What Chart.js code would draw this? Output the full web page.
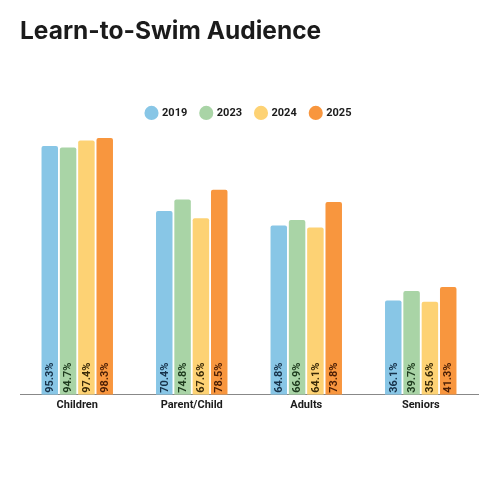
<!DOCTYPE html>
<html>
<head>
<meta charset="utf-8">
<script src="https://cdn.jsdelivr.net/npm/chart.js@4"></script>
<style>
  html, body { margin: 0; padding: 0; background: #fff; }
  #wrap { width: 500px; height: 500px; }
</style>
</head>
<body>
<div id="wrap"><canvas id="swimChart" width="500" height="500"></canvas></div>
<script>
// chart data
const categories = ['Children', 'Parent/Child', 'Adults', 'Seniors'];
const years = ['2019', '2023', '2024', '2025'];
const values2019 = [95.3, 70.4, 64.8, 36.1];
const values2023 = [94.7, 74.8, 66.9, 39.7];
const values2024 = [97.4, 67.6, 64.1, 35.6];
const values2025 = [98.3, 78.5, 73.8, 41.3];

const fills = ['#88c6e6', '#a9d4a6', '#fdd274', '#f8963e'];
const textColors = ['#17324a', '#1d3a1d', '#3a2a08', '#4a1e05'];

// draw the value labels rotated inside each bar, at the bottom
const barLabels = {
    id: 'barLabels',
    afterDatasetsDraw(chart) {
        const ctx = chart.ctx;
        const base = chart.scales.y.getPixelForValue(0);
        chart.data.datasets.forEach(function (ds, i) {
            const meta = chart.getDatasetMeta(i);
            meta.data.forEach(function (bar, j) {
                ctx.save();
                ctx.translate(bar.x, base - 2);
                ctx.rotate(-Math.PI / 2);
                ctx.font = 'bold 11px Roboto, sans-serif';
                ctx.fillStyle = textColors[i];
                ctx.textAlign = 'left';
                ctx.textBaseline = 'middle';
                ctx.fillText(ds.data[j].toFixed(1) + '%', 0, 0.5);
                ctx.restore();
            });
        });
    }
};

const ctx = document.getElementById('swimChart').getContext('2d');
new Chart(ctx, {
    type: 'bar',
    data: {
        labels: categories,
        datasets: [values2019, values2023, values2024, values2025].map(function (vals, i) {
            return {
                label: years[i],
                data: vals,
                backgroundColor: fills[i],
                borderRadius: { topLeft: 2, topRight: 2 },
                borderSkipped: 'bottom',
                categoryPercentage: 0.64,
                barPercentage: 0.9
            };
        })
    },
    options: {
        responsive: false,
        animation: false,
        layout: { padding: { left: 20, right: 22, bottom: 84, top: 0 } },
        plugins: {
            title: {
                display: true,
                text: 'Learn-to-Swim Audience',
                align: 'start',
                color: '#1b1b1b',
                font: { family: 'Inter, sans-serif', size: 24.5, weight: 'bold' },
                padding: { top: 17, bottom: 47 }
            },
            legend: {
                position: 'top',
                labels: {
                    usePointStyle: true,
                    pointStyle: 'circle',
                    boxWidth: 10,
                    boxHeight: 10,
                    padding: 14,
                    color: '#1b1b1b',
                    font: { family: 'Roboto, sans-serif', size: 11, weight: 'bold' }
                }
            },
            tooltip: { enabled: false }
        },
        scales: {
            x: {
                grid: { display: false, drawTicks: false },
                border: { color: '#888', width: 1 },
                ticks: {
                    color: '#1b1b1b',
                    padding: 4,
                    font: { family: 'Roboto, sans-serif', size: 11, weight: 'bold' }
                }
            },
            y: {
                display: false,
                min: 0,
                max: 102
            }
        }
    },
    plugins: [barLabels]
});
</script>
</body>
</html>
